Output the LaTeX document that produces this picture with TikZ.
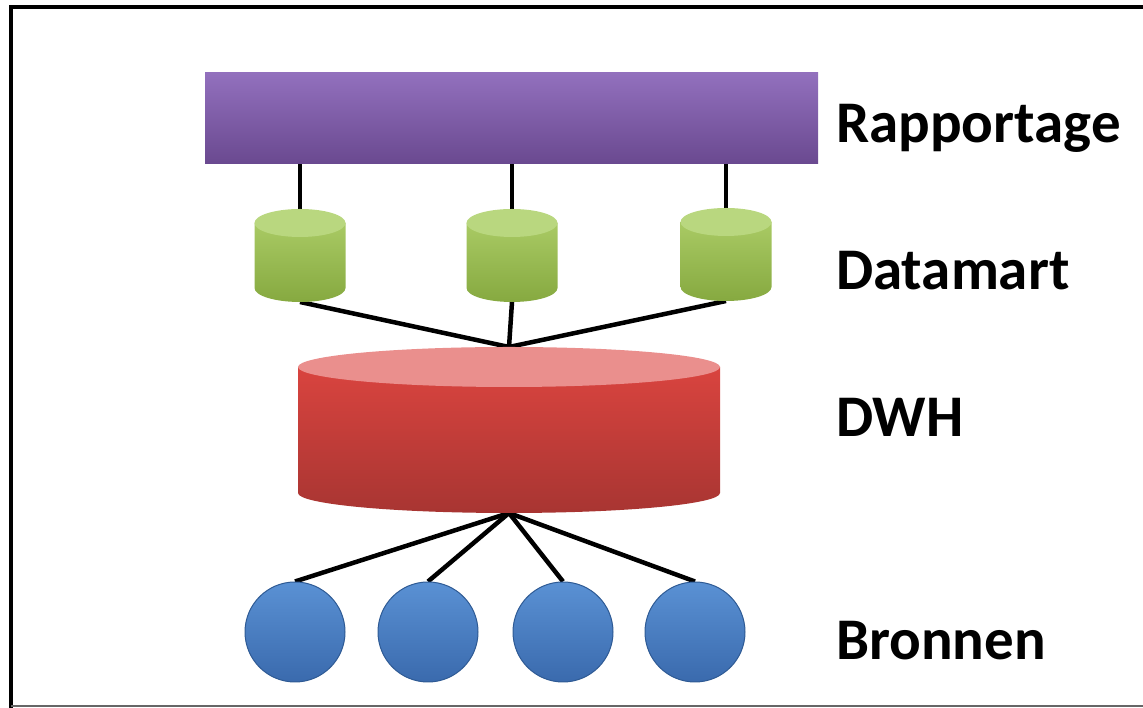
\documentclass[tikz,border=0pt]{standalone}
\usepackage{fontspec}
\setmainfont{Carlito}
\usetikzlibrary{backgrounds,calc}
\definecolor{purpTop}{HTML}{9270BD}
\definecolor{purpBot}{HTML}{6A4990}
\definecolor{grnTop}{HTML}{A9CA64}
\definecolor{grnBot}{HTML}{86A940}
\definecolor{grnEnd}{HTML}{B9D77F}
\definecolor{redTop}{HTML}{D9443F}
\definecolor{redBot}{HTML}{A83532}
\definecolor{redEnd}{HTML}{EA8F8D}
\definecolor{bluTop}{HTML}{5A91D4}
\definecolor{bluBot}{HTML}{3A6AAD}
\definecolor{bluEdge}{HTML}{2E5A94}
\newcommand\drawcyl[6]{%
  \shade[top color=#4, bottom color=#5]
    ([yshift=-#3]#1.north west) -- ([yshift=#3]#1.south west)
    arc[start angle=180, end angle=360, x radius=#2, y radius=#3]
    -- ([yshift=-#3]#1.north east) -- cycle;
  \fill[#6] ([yshift=-#3]#1.north) ellipse[x radius=#2, y radius=#3];
}
\tikzset{
  slot/.style={inner sep=0pt, outer sep=0pt, draw=none},
  bar/.style={slot, top color=purpTop, bottom color=purpBot, minimum width=613pt, minimum height=91pt},
  dmart/.style={slot, minimum width=91pt, minimum height=93pt},
  dwhbox/.style={slot, minimum width=422pt, minimum height=166pt},
  ball/.style={circle, inner sep=0pt, minimum size=100pt, draw=bluEdge, line width=1pt, top color=bluTop, bottom color=bluBot},
  link/.style={line width=4.5pt, black},
  lbl/.style={anchor=base west, inner sep=0pt, font=\fontsize{59}{70}\selectfont\bfseries},
}
\begin{document}
\begin{tikzpicture}[x=1pt, y=1pt]
\useasboundingbox (0,0) rectangle (1143,708);
% frame
\draw[line width=4pt, line cap=rect] (1160,701) -- (11,701) -- (11,2);
\draw[gray!80!black, line width=1.5pt] (11,2) -- (1160,2);

% nodes
\node[bar] (rap) at (511.5,589.5) {};
\node[dmart] (dm1) at (300,452.5) {};
\node[dmart] (dm2) at (512,452.5) {};
\node[dmart] (dm3) at (726,453.5) {};
\node[dwhbox] (dwh) at (509,278) {};
\node[ball] (b1) at (295,76) {};
\node[ball] (b2) at (428,76) {};
\node[ball] (b3) at (563,76) {};
\node[ball] (b4) at (695,76) {};

% cylinder graphics
\drawcyl{dm1}{45.5pt}{14pt}{grnTop}{grnBot}{grnEnd}
\drawcyl{dm2}{45.5pt}{14pt}{grnTop}{grnBot}{grnEnd}
\drawcyl{dm3}{45.5pt}{14pt}{grnTop}{grnBot}{grnEnd}
\drawcyl{dwh}{211pt}{20pt}{redTop}{redBot}{redEnd}

% connectors
\begin{pgfonlayer}{background}
\draw[link] (rap.south -| dm1.north) -- (dm1.north);
\draw[link] (rap.south -| dm2.north) -- (dm2.north);
\draw[link] (rap.south -| dm3.north) -- (dm3.north);
\draw[link] (dm1.south) -- (dwh.north);
\draw[link] (dm2.south) -- (dwh.north);
\draw[link] (dm3.south) -- (dwh.north);
\draw[link] (dwh.south) -- (b1.north);
\draw[link] (dwh.south) -- (b2.north);
\draw[link] (dwh.south) -- (b3.north);
\draw[link] (dwh.south) -- (b4.north);
\end{pgfonlayer}

% labels
\node[lbl] (lrap) at (836,565) {Rapportage};
\node[lbl] (ldm) at (836,418) {Datamart};
\node[lbl] (ldwh) at (836,271) {DWH};
\node[lbl] (lbr) at (836,48) {Bronnen};
\end{tikzpicture}
\end{document}
